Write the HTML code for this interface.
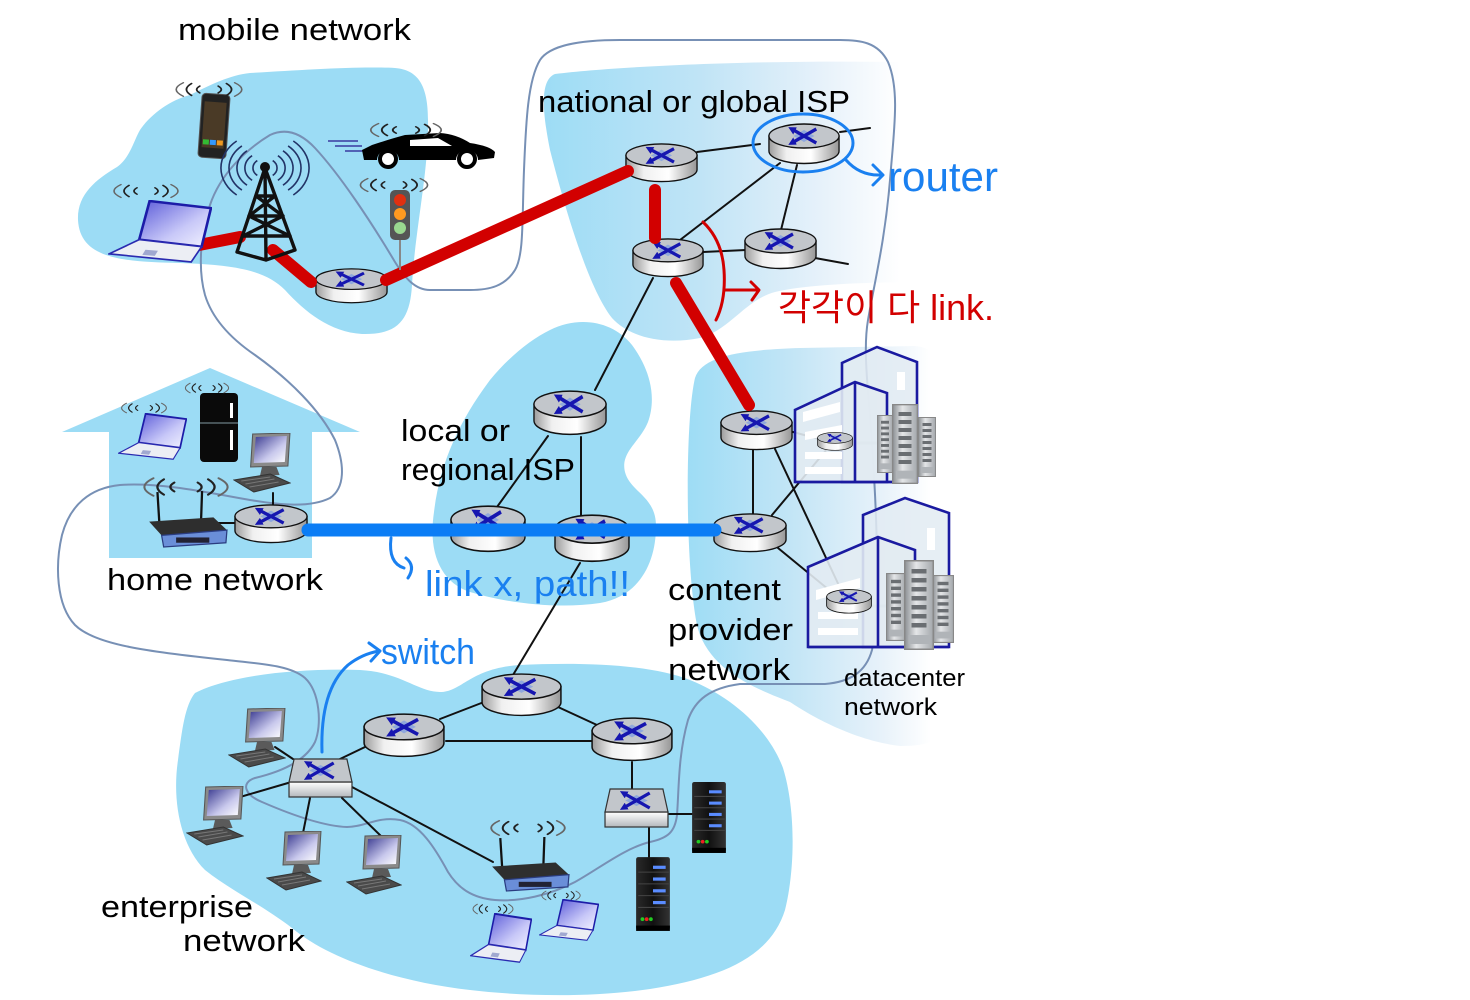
<!DOCTYPE html>
<html><head><meta charset="utf-8">
<style>
html,body{margin:0;padding:0;background:#fff;}
svg{display:block;}
text{font-family:"Liberation Sans","Noto Sans CJK KR",sans-serif;}
</style></head><body>
<svg width="1470" height="1000" viewBox="0 0 1470 1000" xmlns="http://www.w3.org/2000/svg">
<defs>
 <linearGradient id="gNat" x1="540" y1="0" x2="940" y2="0" gradientUnits="userSpaceOnUse">
  <stop offset="0" stop-color="#9cdcf5"/><stop offset="0.4" stop-color="#c0e4f6"/><stop offset="0.7" stop-color="#e6f1fa"/><stop offset="0.9" stop-color="#ffffff"/><stop offset="1" stop-color="#ffffff"/>
 </linearGradient>
 <linearGradient id="gCp" x1="683" y1="0" x2="950" y2="0" gradientUnits="userSpaceOnUse">
  <stop offset="0" stop-color="#9cdcf5"/><stop offset="0.4" stop-color="#c2e5f6"/><stop offset="0.75" stop-color="#e8f2fa"/><stop offset="0.93" stop-color="#ffffff"/><stop offset="1" stop-color="#ffffff"/>
 </linearGradient>
 <linearGradient id="rside" x1="0" y1="0" x2="1" y2="0">
  <stop offset="0" stop-color="#9c9c9c"/><stop offset="0.25" stop-color="#f0f0f0"/><stop offset="0.6" stop-color="#ffffff"/><stop offset="1" stop-color="#969696"/>
 </linearGradient>
 <linearGradient id="sfront" x1="0" y1="0" x2="0" y2="1">
  <stop offset="0" stop-color="#ffffff"/><stop offset="1" stop-color="#b4b8bc"/>
 </linearGradient>
 <linearGradient id="lscr" x1="0" y1="0" x2="1" y2="1">
  <stop offset="0" stop-color="#5a5ad8"/><stop offset="0.6" stop-color="#c8c8f8"/><stop offset="1" stop-color="#f4f4ff"/>
 </linearGradient>
 <linearGradient id="mscr" x1="0" y1="0" x2="1" y2="1">
  <stop offset="0" stop-color="#3a3a90"/><stop offset="0.6" stop-color="#c8c8ec"/><stop offset="1" stop-color="#ffffff"/>
 </linearGradient>
 <linearGradient id="srv" x1="0" y1="0" x2="1" y2="0">
  <stop offset="0" stop-color="#2a2a2a"/><stop offset="0.5" stop-color="#111"/><stop offset="1" stop-color="#333"/>
 </linearGradient>
 <linearGradient id="dcs" x1="0" y1="0" x2="1" y2="0">
  <stop offset="0" stop-color="#8c9094"/><stop offset="0.4" stop-color="#e4e6e8"/><stop offset="1" stop-color="#a4a8ac"/>
 </linearGradient>
 <marker id="ah" viewBox="0 0 10 10" refX="5" refY="5" markerWidth="2.4" markerHeight="2.4" orient="auto-start-reverse">
  <path d="M0,0 L10,5 L0,10 z" fill="#1616b0"/>
 </marker>
 <symbol id="rt" viewBox="0 0 76 42" preserveAspectRatio="none">
  <path d="M1,13 L1,28 A37,12.5 0 0 0 75,28 L75,13 Z" fill="url(#rside)" stroke="#111" stroke-width="1.4"/>
  <ellipse cx="38" cy="13" rx="37" ry="12" fill="#c2c6cb" stroke="#111" stroke-width="1.4"/>
  <polygon points="38,7 49,13 38,19 27,13" fill="#90a8dc"/>
  <path d="M25,6 L51,20 M51,6 L25,20" stroke="#1616b0" stroke-width="3.4" fill="none" marker-start="url(#ah)" marker-end="url(#ah)"/>
 </symbol>
 <symbol id="sw" viewBox="0 0 64 40" preserveAspectRatio="none">
  <rect x="1" y="24" width="62" height="15" fill="url(#sfront)" stroke="#333" stroke-width="1.2"/>
  <polygon points="6,1 58,1 63,24 1,24" fill="#c2c6cb" stroke="#333" stroke-width="1.2"/>
  <polygon points="32,7 43,12.5 32,18 21,12.5" fill="#90a8dc"/>
  <path d="M19,5 L45,20 M45,5 L19,20" stroke="#1616b0" stroke-width="3.2" fill="none" marker-start="url(#ah)" marker-end="url(#ah)"/>
 </symbol>
 <symbol id="wv" viewBox="0 0 80 20" preserveAspectRatio="none">
  <g fill="none" stroke-linecap="round">
   <path d="M31,6 Q25,10 31,14" stroke="#222" stroke-width="1.8"/>
   <path d="M23,3 Q13,10 23,17" stroke="#222" stroke-width="1.8"/>
   <path d="M15,2 Q1,10 15,18" stroke="#666" stroke-width="1.6"/>
   <path d="M49,6 Q55,10 49,14" stroke="#222" stroke-width="1.8"/>
   <path d="M57,3 Q67,10 57,17" stroke="#222" stroke-width="1.8"/>
   <path d="M65,2 Q79,10 65,18" stroke="#666" stroke-width="1.6"/>
  </g>
 </symbol>
 <symbol id="laptop" viewBox="0 0 100 62" preserveAspectRatio="none">
  <polygon points="40,1 99,8 90,46 30,39" fill="url(#lscr)" stroke="#1c1ca8" stroke-width="2.5"/>
  <polygon points="30,39 90,46 80,61 1,53" fill="#eceef4" stroke="#2a2ab0" stroke-width="1.6"/>
  <polygon points="36,49 48,50 45,55 33,54" fill="#a0a8d0"/>
 </symbol>
 <symbol id="pc" viewBox="0 0 56 60" preserveAspectRatio="none">
  <polygon points="19,1 55,0 53,33 17,34" fill="#8a8a8a" stroke="#555" stroke-width="1"/>
  <polygon points="22,4 52,3 50,29 20,30" fill="url(#mscr)"/>
  <polygon points="28,34 42,34 45,42 26,43" fill="#5a5a5a"/>
  <polygon points="1,47 36,41 55,50 20,59" fill="#4a4a4a" stroke="#333" stroke-width="1"/>
  <path d="M8,48 L36,44 M12,51 L40,46 M16,54 L44,49" stroke="#777" stroke-width="1"/>
 </symbol>
 <symbol id="wr" viewBox="0 0 80 55" preserveAspectRatio="none">
  <path d="M14,34 L12,2 M54,30 L55,1" stroke="#111" stroke-width="2.2"/>
  <polygon points="4,30 66,26 79,38 16,43" fill="#2e2e2e"/>
  <polygon points="16,43 79,38 78,50 18,54" fill="#6a8ed8" stroke="#2a3c80" stroke-width="1.2"/>
  <rect x="30" y="45" width="32" height="5" fill="#223"/>
 </symbol>
 <symbol id="srvs" viewBox="0 0 36 72" preserveAspectRatio="none">
  <rect x="2" y="2" width="32" height="68" rx="2" fill="url(#srv)"/>
  <rect x="2" y="66" width="32" height="5" fill="#000"/>
  <g fill="#5a8cff"><rect x="18" y="10" width="12" height="3"/><rect x="18" y="21" width="12" height="3"/><rect x="18" y="32" width="12" height="3"/><rect x="18" y="43" width="12" height="3"/></g>
  <path d="M4,16 H33 M4,27 H33 M4,38 H33 M4,49 H33" stroke="#444" stroke-width="1"/>
  <circle cx="8" cy="60" r="1.8" fill="#2c2"/><circle cx="12" cy="60" r="1.8" fill="#e22"/><circle cx="16" cy="60" r="1.8" fill="#2c2"/>
 </symbol>
 <symbol id="rack" viewBox="0 0 20 60" preserveAspectRatio="none">
  <rect x="0.5" y="0.5" width="19" height="59" fill="url(#dcs)" stroke="#888" stroke-width="1"/>
  <g fill="#6a6e72"><rect x="5" y="6" width="10" height="3"/><rect x="5" y="12" width="10" height="3"/><rect x="5" y="18" width="10" height="3"/><rect x="5" y="24" width="10" height="3"/><rect x="5" y="30" width="10" height="3"/><rect x="5" y="36" width="10" height="3"/><rect x="5" y="42" width="10" height="3"/></g>
  <rect x="3" y="50" width="14" height="6" fill="#b0b4b8"/>
 </symbol>
</defs>

<!-- blobs -->
<path d="M250,73 C300,70 360,66 395,68 C418,70 428,85 428,120 C429,170 415,230 412,285 C410,320 398,335 362,334 C330,332 305,312 285,290 C265,270 235,265 180,263 C120,262 80,258 78,220 C77,195 95,180 117,167 C130,158 134,140 140,130 C150,115 170,100 190,95 C210,85 230,75 250,73 Z" fill="#9cdcf5"/>
<path d="M555,74 C620,66 760,60 895,62 C925,64 940,90 940,130 L940,282 C870,282 810,284 775,292 C745,300 730,330 700,338 C665,345 630,338 612,318 C590,290 568,220 550,150 C542,110 540,80 555,74 Z" fill="url(#gNat)"/>
<path d="M550,330 C578,316 612,320 632,345 C652,372 656,400 648,422 C640,442 620,452 625,472 C630,492 656,496 656,526 C656,562 640,596 600,603 C560,609 510,604 470,592 C440,582 428,552 434,512 C440,462 460,420 490,380 C510,356 530,340 550,330 Z" fill="#9cdcf5"/>
<path d="M695,378 C702,356 740,350 800,348 L915,346 C940,348 948,370 948,400 L948,720 C945,740 930,746 900,746 C850,740 805,712 790,702 C760,690 708,672 697,625 C685,565 685,420 695,378 Z" fill="url(#gCp)"/>
<path d="M195,693 C230,675 300,668 360,670 C400,672 418,692 440,692 C462,692 470,668 520,665 C580,662 650,664 690,680 C730,696 768,728 783,768 C796,810 795,870 785,910 C770,958 720,978 650,989 C590,998 520,996 470,990 C400,982 330,960 292,928 C262,905 230,890 205,870 C180,845 172,800 178,760 C182,730 185,705 195,693 Z" fill="#9cdcf5"/>
<polygon points="62,432 210,368 360,432 312,432 312,558 109,558 109,432" fill="#9cdcf5"/>

<!-- gray path -->
<path d="M227,660 C260,664 290,665 305,678 C320,692 322,725 315,742 C305,762 280,772 255,778 C240,783 245,795 262,802 C285,812 320,826 347,827 C365,827 378,816 400,820 C420,824 435,848 448,872 C458,888 472,898 495,900 C520,902 550,895 575,882 C600,868 625,848 650,842 C668,838 675,832 677,815 C679,790 678,755 688,720 C695,700 710,688 740,684 L825,684 C850,682 866,672 872,650 C880,610 877,520 873,460 C870,400 862,355 868,320 C875,280 885,240 890,180 C894,130 900,90 888,62 C878,42 860,40 840,40 L620,40 C580,40 550,45 540,60 C528,80 526,120 524,170 C522,220 524,255 515,270 C505,286 490,290 470,290 L430,290 C415,290 405,278 395,262 C370,220 340,175 315,148 C300,132 285,128 270,135 C245,150 220,175 210,205 C200,235 198,270 205,295 C212,318 230,338 255,355 C290,380 320,410 335,440 C345,465 345,488 330,498 C310,508 280,505 250,500 C210,493 160,482 120,485 C90,488 70,505 62,535 C55,565 56,605 75,625 C95,645 150,652 227,660 Z" fill="none" stroke="#7790b5" stroke-width="2"/>

<!-- black links -->
<g stroke="#111" stroke-width="2" fill="none" stroke-linecap="round">
 <path d="M697,152 L760,144"/>
 <path d="M840,132 L870,128"/>
 <path d="M780,163 L680,240"/>
 <path d="M797,165 L781,230"/>
 <path d="M703,252 L746,250"/>
 <path d="M815,258 L848,264"/>
 <path d="M653,278 L595,390"/>
 <path d="M548,436 L497,507"/>
 <path d="M581,437 L581,516"/>
 <path d="M580,563 L513,675"/>
 <path d="M753,450 L753,514"/>
 <path d="M793,432 L819,439"/>
 <path d="M775,449 L842,592"/>
 <path d="M772,515 L828,448"/>
 <path d="M778,548 L834,594"/>
 <path d="M440,719 L484,702"/>
 <path d="M558,707 L597,725"/>
 <path d="M446,741 L592,741"/>
 <path d="M365,747 L340,759"/>
 <path d="M632,762 L632,790"/>
 <path d="M275,747 L293,759"/>
 <path d="M288,783 L240,797"/>
 <path d="M310,798 L303,833"/>
 <path d="M342,798 L382,837"/>
 <path d="M352,787 L493,862"/>
 <path d="M669,814 L692,814"/>
 <path d="M649,828 L649,857"/>
 <path d="M273,493 L273,507"/>
 <path d="M217,523 L234,523"/>
</g>
<path d="M853,443 L877,443 M872,606 L888,606" stroke="#111" stroke-width="3"/>

<!-- datacenter buildings -->
<g stroke="#1a1aa0" stroke-width="2.6" stroke-linejoin="miter">
 <polygon points="842,383 842,363 877,347 917,362 917,482 842,482" fill="#e2ebf2" fill-opacity="0.85"/>
 <polygon points="795,482 795,410 855,382 887,393 887,482" fill="#e2ebf2" fill-opacity="0.9"/>
 <path d="M855,382 L855,482 M795,482 L917,482" fill="none"/>
 <polygon points="863,537 863,515 905,498 949,513 949,647 863,647" fill="#e2ebf2" fill-opacity="0.85"/>
 <polygon points="808,647 808,567 878,537 915,550 915,647" fill="#e2ebf2" fill-opacity="0.9"/>
 <path d="M878,537 L878,647 M808,647 L949,647" fill="none"/>
</g>
<g fill="#ffffff">
 <polygon points="803,412 840,402 840,412 803,422"/>
 <polygon points="805,432 842,425 842,433 805,440"/>
 <rect x="805" y="452" width="37" height="7"/>
 <rect x="805" y="467" width="37" height="7"/>
 <rect x="897" y="372" width="8" height="18"/>
 <polygon points="816,590 860,578 860,588 816,600"/>
 <rect x="818" y="612" width="40" height="7"/>
 <rect x="818" y="628" width="40" height="7"/>
 <rect x="927" y="528" width="8" height="22"/>
</g>
<use href="#rack" x="877" y="415" width="16" height="58"/>
<use href="#rack" x="918" y="417" width="18" height="60"/>
<use href="#rack" x="892" y="404" width="26" height="80"/>
<use href="#rack" x="886" y="573" width="20" height="68"/>
<use href="#rack" x="932" y="575" width="22" height="68"/>
<use href="#rack" x="904" y="560" width="30" height="90"/>

<!-- routers -->
<use href="#rt" x="315" y="268" width="73" height="36"/>
<use href="#rt" x="625" y="143" width="73" height="40"/>
<use href="#rt" x="768" y="123" width="72" height="42"/>
<use href="#rt" x="632" y="238" width="72" height="40"/>
<use href="#rt" x="744" y="228" width="73" height="42"/>
<use href="#rt" x="533" y="390" width="74" height="46"/>
<use href="#rt" x="450" y="505" width="76" height="48"/>
<use href="#rt" x="554" y="514" width="76" height="49"/>
<use href="#rt" x="234" y="504" width="74" height="40"/>
<use href="#rt" x="720" y="410" width="73" height="41"/>
<use href="#rt" x="713" y="513" width="74" height="40"/>
<use href="#rt" x="817" y="432" width="36" height="19"/>
<use href="#rt" x="826" y="589" width="46" height="25"/>
<use href="#rt" x="481" y="673" width="81" height="44"/>
<use href="#rt" x="363" y="713" width="82" height="45"/>
<use href="#rt" x="591" y="717" width="82" height="45"/>
<use href="#sw" x="288" y="758" width="65" height="40"/>
<use href="#sw" x="604" y="788" width="65" height="40"/>

<!-- red links -->
<g stroke="#d20000" stroke-width="12" stroke-linecap="round" fill="none">
 <path d="M199,245 L240,237"/>
 <path d="M273,250 L311,282"/>
 <path d="M386,280 L628,171"/>
 <path d="M655,190 L655,238"/>
 <path d="M676,283 L749,405"/>
</g>
<!-- blue path -->
<path d="M308,530 L715,530" stroke="#0b7df5" stroke-width="13" stroke-linecap="round"/>

<!-- mobile devices -->
<use href="#laptop" x="108" y="200" width="104" height="63"/>
<use href="#wv" x="106" y="183" width="80" height="16"/>
<g transform="rotate(4 214 126)">
 <rect x="200" y="94" width="28" height="64" rx="4" fill="#222" stroke="#555" stroke-width="1"/>
 <rect x="203" y="102" width="22" height="46" fill="#4a3a26"/>
 <rect x="204" y="140" width="6" height="5" fill="#3b3"/><rect x="211" y="140" width="6" height="5" fill="#39f"/><rect x="218" y="140" width="6" height="5" fill="#e92"/>
</g>
<use href="#wv" x="168" y="81" width="82" height="17"/>
<g fill="none" stroke="#223366" stroke-width="1.6">
 <path d="M257.3,160.6 A12,9.6 0 0 0 257.3,175.4 M252.1,155.7 A20,16 0 0 0 252.1,180.3 M247,150.8 A28,22.4 0 0 0 247,185.2 M241.9,145.9 A36,28.8 0 0 0 241.9,190.1 M236.7,141 A44,35.2 0 0 0 236.7,195"/>
 <path d="M272.7,160.6 A12,9.6 0 0 1 272.7,175.4 M277.9,155.7 A20,16 0 0 1 277.9,180.3 M283,150.8 A28,22.4 0 0 1 283,185.2 M288.1,145.9 A36,28.8 0 0 1 288.1,190.1 M293.3,141 A44,35.2 0 0 1 293.3,195"/>
</g>
<g stroke="#111" stroke-width="3.4" fill="none" stroke-linejoin="round" stroke-linecap="round">
 <path d="M265,168 L237,252 M265,168 L295,250 M265,168 L266,260 M237,252 L266,260 L295,250"/>
 <path d="M256,196 L275,196 M249,216 L283,216 M243,236 L290,236 M256,196 L283,216 M275,196 L249,216 M249,216 L290,236 M283,216 L243,236"/>
</g>
<circle cx="265" cy="167" r="5" fill="#111"/>
<path d="M328,141 L358,141 M335,146 L362,146 M345,151 L365,151" stroke="#3a3aa0" stroke-width="1.6"/>
<path d="M362,150 L372,145 Q390,139 405,135 L440,133 Q456,134 470,143 Q490,146 495,152 L494,158 L478,160 A11,10 0 0 0 456,160 L399,160 A11,10 0 0 0 377,160 L364,160 Z" fill="#000"/>
<path d="M410,140 L438,138 L452,146 L410,146 Z" fill="#fff"/>
<circle cx="388" cy="159" r="8" fill="#fff" stroke="#000" stroke-width="4"/>
<circle cx="467" cy="159" r="8" fill="#fff" stroke="#000" stroke-width="4"/>
<use href="#wv" x="362" y="122" width="88" height="16"/>
<line x1="400" y1="238" x2="400" y2="270" stroke="#888" stroke-width="2"/>
<rect x="390" y="190" width="20" height="50" rx="5" fill="#555"/>
<circle cx="400" cy="200" r="6" fill="#e03010"/>
<circle cx="400" cy="214" r="6" fill="#ff9a20"/>
<circle cx="400" cy="228" r="6" fill="#9ad890"/>
<use href="#wv" x="352" y="177" width="84" height="16"/>

<!-- home devices -->
<use href="#laptop" x="118" y="413" width="69" height="47"/>
<use href="#wv" x="116" y="402" width="56" height="12"/>
<rect x="200" y="393" width="38" height="69" rx="4" fill="#0a0a0a"/>
<line x1="200" y1="423" x2="238" y2="423" stroke="#5a6a70" stroke-width="1.5"/>
<rect x="230" y="403" width="3" height="15" fill="#fff"/><rect x="230" y="430" width="3" height="20" fill="#fff"/>
<use href="#wv" x="180" y="382" width="54" height="12"/>
<use href="#pc" x="233" y="433" width="58" height="60"/>
<use href="#wr" x="145" y="490" width="83" height="58"/>
<use href="#wv" x="134" y="476" width="104" height="22"/>

<!-- enterprise devices -->
<use href="#pc" x="228" y="708" width="58" height="60"/>
<use href="#pc" x="186" y="786" width="58" height="60"/>
<use href="#pc" x="266" y="831" width="56" height="60"/>
<use href="#pc" x="346" y="835" width="56" height="60"/>
<use href="#wr" x="488" y="836" width="82" height="56"/>
<use href="#wv" x="482" y="819" width="92" height="18"/>
<use href="#laptop" x="470" y="913" width="62" height="50"/>
<use href="#wv" x="468" y="903" width="50" height="12"/>
<use href="#laptop" x="539" y="899" width="60" height="42"/>
<use href="#wv" x="537" y="890" width="48" height="11"/>
<use href="#srvs" x="690" y="780" width="38" height="74"/>
<use href="#srvs" x="634" y="855" width="38" height="77"/>

<!-- labels -->
<g fill="#000">
 <text x="178" y="40" font-size="31" textLength="233" lengthAdjust="spacingAndGlyphs">mobile network</text>
 <text x="538" y="112" font-size="31" textLength="312" lengthAdjust="spacingAndGlyphs">national or global ISP</text>
 <text x="401" y="441" font-size="31" textLength="109" lengthAdjust="spacingAndGlyphs">local or</text>
 <text x="401" y="480" font-size="31" textLength="174" lengthAdjust="spacingAndGlyphs">regional ISP</text>
 <text x="107" y="590" font-size="31" textLength="216" lengthAdjust="spacingAndGlyphs">home network</text>
 <text x="668" y="600" font-size="31" textLength="113" lengthAdjust="spacingAndGlyphs">content</text>
 <text x="668" y="640" font-size="31" textLength="125" lengthAdjust="spacingAndGlyphs">provider</text>
 <text x="668" y="680" font-size="31" textLength="122" lengthAdjust="spacingAndGlyphs">network</text>
 <text x="844" y="686" font-size="24" textLength="121" lengthAdjust="spacingAndGlyphs">datacenter</text>
 <text x="844" y="715" font-size="24" textLength="93" lengthAdjust="spacingAndGlyphs">network</text>
 <text x="101" y="917" font-size="31" textLength="152" lengthAdjust="spacingAndGlyphs">enterprise</text>
 <text x="183" y="951" font-size="31" textLength="122" lengthAdjust="spacingAndGlyphs">network</text>
</g>

<!-- blue annotations -->
<g fill="none" stroke="#1a80f0" stroke-width="3" stroke-linecap="round" stroke-linejoin="round">
 <ellipse cx="803" cy="143" rx="50" ry="29"/>
 <path d="M846,160 Q860,176 881,175"/>
 <path d="M873,165 L883,175 L873,185"/>
 <path d="M391,538 Q388,563 404,568"/>
 <path d="M406,558 Q416,566 408,578"/>
 <path d="M322,752 Q320,690 348,665 Q362,654 379,651"/>
 <path d="M369,643 L380,651 L371,661"/>
</g>
<g fill="#1a80f0">
 <text x="888" y="191" font-size="42" textLength="110" lengthAdjust="spacingAndGlyphs">router</text>
 <text x="425" y="596" font-size="36" textLength="205" lengthAdjust="spacingAndGlyphs">link x, path!!</text>
 <text x="381" y="664" font-size="36" textLength="94" lengthAdjust="spacingAndGlyphs">switch</text>
</g>
<!-- red annotations -->
<g fill="none" stroke="#d20000" stroke-width="3" stroke-linecap="round" stroke-linejoin="round">
 <path d="M703,222 Q722,240 724,270 Q726,300 716,320"/>
 <path d="M724,290 L758,290"/>
 <path d="M751,282 L759,290 L752,300"/>
</g>
<text x="778" y="320" font-size="36" fill="#d20000" textLength="216" lengthAdjust="spacingAndGlyphs" font-family="Liberation Sans, Noto Sans CJK KR, sans-serif">각각이 다 link.</text>
</svg>
</body></html>
